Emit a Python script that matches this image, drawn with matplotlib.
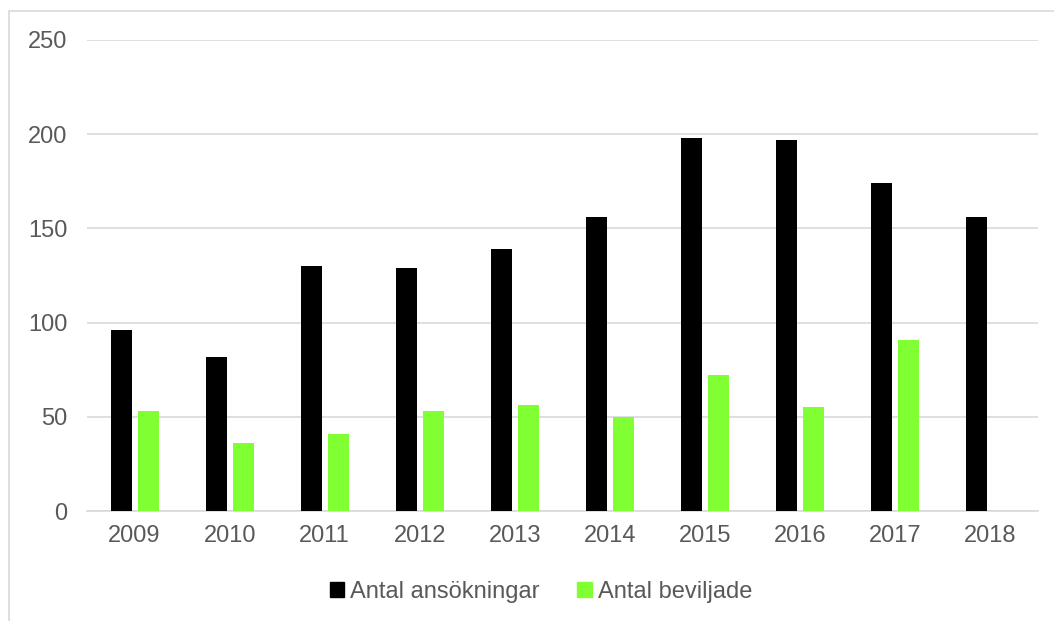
import numpy as np
import matplotlib
matplotlib.use("Agg")
import matplotlib.pyplot as plt
from matplotlib.patches import Rectangle, Patch

# Data
years = ["2009", "2010", "2011", "2012", "2013", "2014", "2015", "2016", "2017", "2018"]
ansokningar = [96, 82, 130, 129, 139, 156, 198, 197, 174, 156]
beviljade = [53, 36, 41, 53, 56, 50, 72, 55, 91, np.nan]

plt.rcParams['font.family'] = ['Liberation Sans', 'DejaVu Sans']
text_color = '#595959'
grid_color = '#d9d9d9'

W, H = 1054, 621
fig = plt.figure(figsize=(W / 100, H / 100), dpi=100)

# Plot area in pixels: x 87..1038, y 40..511
ax = fig.add_axes([87 / W, 1 - 511 / H, (1038 - 87) / W, (511 - 40) / H])

x = np.arange(len(years))
width = 0.22
offset = 0.142
ax.bar(x - offset, ansokningar, width, color='black', label='Antal ansökningar', zorder=3)
ax.bar(x + offset, beviljade, width, color='#80ff33', label='Antal beviljade', zorder=3)

ax.set_xlim(-0.5, len(years) - 0.5)
ax.set_ylim(0, 250)
ax.set_yticks(range(0, 251, 50))
ax.set_xticks(x)
ax.set_xticklabels(years)
ax.yaxis.grid(True, color=grid_color, linewidth=1.2, zorder=0)
ax.set_axisbelow(True)
for side in ['top', 'right', 'left']:
    ax.spines[side].set_visible(False)
ax.spines['bottom'].set_color(grid_color)
ax.spines['bottom'].set_linewidth(1.2)
ax.tick_params(axis='both', length=0, labelsize=17, colors=text_color)
ax.tick_params(axis='y', pad=14)
ax.tick_params(axis='x', pad=10)

handles = [Patch(color='black'), Patch(color='#80ff33')]
fig.legend(handles, ['Antal ansökningar', 'Antal beviljade'],
           loc='center', bbox_to_anchor=(541 / W, 1 - 592 / H), ncol=2,
           frameon=False, fontsize=17, labelcolor=text_color,
           handlelength=0.6, handleheight=0.6, handletextpad=0.25, columnspacing=1.6)

# outer chart border (partly cut off on the right and bottom)
fig.patches.append(Rectangle((9 / W, -0.1), 1.2, 1 - 11 / H + 0.1, transform=fig.transFigure,
                             fill=False, edgecolor=grid_color, linewidth=1.2))

fig.savefig("out.png", dpi=100)
